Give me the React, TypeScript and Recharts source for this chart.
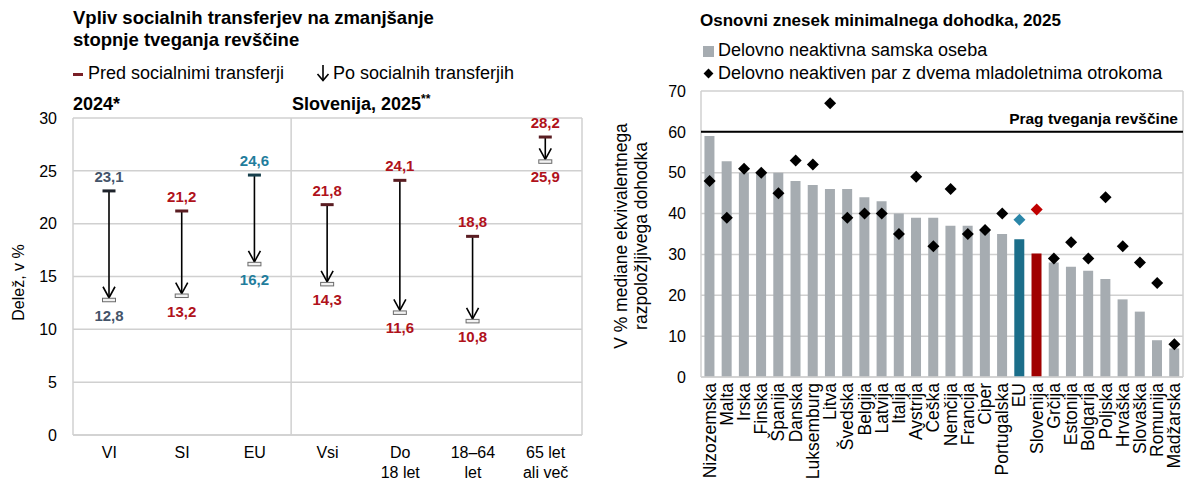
import React from 'react'
import {
  ComposedChart,
  Bar,
  Line,
  XAxis,
  YAxis,
  CartesianGrid,
  ReferenceLine,
  Cell,
  Label,
} from 'recharts'

// levi graf: stopnja tveganja revščine pred / po socialnih transferjih
const groups = ['VI', 'SI', 'EU', 'Vsi', 'Do\n18 let', '18–64\nlet', '65 let\nali več']
const beforeTransfers = [23.1, 21.2, 24.6, 21.8, 24.1, 18.8, 28.2]
const afterTransfers = [12.8, 13.2, 16.2, 14.3, 11.6, 10.8, 25.9]
const shareTicks = [0, 5, 10, 15, 20, 25, 30]

// desni graf: minimalni dohodek, % mediane
const countries = [
  'Nizozemska', 'Malta', 'Irska', 'Finska', 'Španija', 'Danska', 'Luksemburg',
  'Litva', 'Švedska', 'Belgija', 'Latvija', 'Italija', 'Avstrija', 'Češka',
  'Nemčija', 'Francija', 'Ciper', 'Portugalska', 'EU', 'Slovenija', 'Grčija',
  'Estonija', 'Bolgarija', 'Poljska', 'Hrvaška', 'Slovaška', 'Romunija', 'Madžarska',
]
const singlePerson = [59, 52.8, 50, 50, 50, 48, 47, 46, 46, 44, 43, 40, 39, 39, 37, 37, 36, 35, 33.7, 30.2, 28, 27, 26, 24, 19, 16, 9, 7]
const coupleTwoKids = [48, 39, 51, 50, 45, 53, 52, 67, 39, 40, 40, 35, 49, 32, 46, 35, 36, 40, 38.5, 41, 29, 33, 29, 44, 32, 28, 23, 8]
const incomeTicks = [0, 10, 20, 30, 40, 50, 60, 70]
const povertyThreshold = 60

const FONT = '"Liberation Sans", Arial, sans-serif'
const SLATE = '#44546a'
const RED = '#b0121b'
const TEAL = '#1f7d9c'
const GRID = '#d0d0d0'

const fmt = (v: number) => v.toFixed(1).replace('.', ',')

const shareData = groups.map((g, i) => ({
  name: g,
  range: [afterTransfers[i], beforeTransfers[i]],
  before: beforeTransfers[i],
  after: afterTransfers[i],
}))

const incomeData = countries.map((c, i) => ({
  name: c,
  single: singlePerson[i],
  couple: coupleTwoKids[i],
}))

function groupColor(name: string) {
  if (name === 'VI') return SLATE
  if (name === 'EU') return TEAL
  return RED
}

function capColor(name: string) {
  if (name === 'VI') return '#1e232b'
  if (name === 'EU') return '#173f4c'
  return '#5a1d22'
}

function ArrowShape(props: any) {
  const { x, y, width, height, payload } = props
  const cx = x + width / 2
  const top = y
  const bottom = y + height
  const color = groupColor(payload.name)
  return (
    <g>
      <line x1={cx} y1={top} x2={cx} y2={bottom - 2} stroke="#000" strokeWidth={1.6} />
      <polyline
        points={`${cx - 6},${bottom - 13} ${cx},${bottom - 2} ${cx + 6},${bottom - 13}`}
        fill="none"
        stroke="#000"
        strokeWidth={1.6}
      />
      <rect x={cx - 6.5} y={top - 1.5} width={13} height={3} fill={capColor(payload.name)} />
      <rect x={cx - 6.5} y={bottom - 1.5} width={13} height={3.5} fill="#f2f2f2" stroke="#6b6b6b" strokeWidth={1} />
      <text x={cx} y={top - 9} textAnchor="middle" fill={color} fontSize={15} fontWeight="bold" fontFamily={FONT}>
        {fmt(payload.before)}
      </text>
      <text x={cx} y={bottom + 21} textAnchor="middle" fill={color} fontSize={15} fontWeight="bold" fontFamily={FONT}>
        {fmt(payload.after)}
      </text>
    </g>
  )
}

function GroupTick({ x, y, payload }: any) {
  const lines = String(payload.value).split('\n')
  return (
    <text x={x} y={y} textAnchor="middle" fill="#000" fontSize={16} fontFamily={FONT}>
      {lines.map((l, i) => (
        <tspan key={i} x={x} dy={i === 0 ? 15 : 20}>
          {l}
        </tspan>
      ))}
    </text>
  )
}

function CountryTick({ x, y, payload }: any) {
  return (
    <g transform={`translate(${x},${y - 2})`}>
      <text transform="rotate(-90)" x={0} y={0} textAnchor="end" dominantBaseline="central" fill="#000" fontSize={17.5} fontFamily={FONT}>
        {payload.value}
      </text>
    </g>
  )
}

function Diamond(props: any) {
  const { cx, cy, payload } = props
  if (cx == null || cy == null) return null
  const fill = payload.name === 'EU' ? '#2a86a8' : payload.name === 'Slovenija' ? '#c00000' : '#000'
  const r = 6
  return <polygon points={`${cx},${cy - r} ${cx + r},${cy} ${cx},${cy + r} ${cx - r},${cy}`} fill={fill} />
}

const frameLines = ({ offset }: any) => [offset.left, offset.left + offset.width]

function ShareChart() {
  return (
    <ComposedChart
      width={600}
      height={481}
      data={shareData}
      margin={{ top: 118, right: 18, bottom: 0, left: 0 }}
    >
      <CartesianGrid stroke={GRID} strokeWidth={1.5} verticalCoordinatesGenerator={frameLines} />
      <XAxis
        dataKey="name"
        height={46}
        tick={<GroupTick />}
        tickLine={false}
        axisLine={{ stroke: GRID, strokeWidth: 1.5 }}
        interval={0}
      />
      <YAxis
        domain={[0, 30]}
        ticks={shareTicks}
        width={73}
        tickLine={false}
        axisLine={false}
        tickMargin={10}
        tick={{ fontSize: 16, fill: '#000', fontFamily: FONT }}
      >
        <Label
          content={({ viewBox }: any) => (
            <text
              transform={`translate(${viewBox.x + 18},${viewBox.y + viewBox.height / 2 + 6}) rotate(-90)`}
              textAnchor="middle"
              dominantBaseline="central"
              fontSize={16}
              fontFamily={FONT}
              fill="#000"
            >
              Delež, v %
            </text>
          )}
        />
      </YAxis>
      <ReferenceLine x="Vsi" position="start" stroke={GRID} strokeWidth={1.5} />
      <Bar dataKey="range" barSize={14} shape={<ArrowShape />} isAnimationActive={false} />
    </ComposedChart>
  )
}

function IncomeChart() {
  return (
    <ComposedChart
      width={587}
      height={481}
      data={incomeData}
      margin={{ top: 91, right: 4, bottom: 0, left: 0 }}
      barCategoryGap="20%"
    >
      <CartesianGrid stroke={GRID} strokeWidth={1.5} verticalCoordinatesGenerator={frameLines} />
      <XAxis
        dataKey="name"
        height={104}
        interval={0}
        tick={<CountryTick />}
        tickLine={false}
        axisLine={{ stroke: GRID, strokeWidth: 1.5 }}
      />
      <YAxis
        domain={[0, 70]}
        ticks={incomeTicks}
        width={101}
        tickLine={false}
        axisLine={false}
        tickMargin={9}
        tick={{ fontSize: 16, fill: '#000', fontFamily: FONT }}
      >
        <Label
          content={({ viewBox }: any) => (
            <text
              transform={`translate(${viewBox.x + 31},${viewBox.y + viewBox.height / 2 + 2}) rotate(-90)`}
              textAnchor="middle"
              fontSize={17.5}
              fontFamily={FONT}
              fill="#000"
            >
              <tspan x={0} dy={-4}>V % mediane ekvivalentnega</tspan>
              <tspan x={0} dy={20}>razpoložljivega dohodka</tspan>
            </text>
          )}
        />
      </YAxis>
      <Bar dataKey="single" isAnimationActive={false}>
        {incomeData.map((d) => (
          <Cell
            key={d.name}
            fill={d.name === 'EU' ? '#1b6e8a' : d.name === 'Slovenija' ? '#a00000' : '#a6acb1'}
          />
        ))}
      </Bar>
      <ReferenceLine
        y={povertyThreshold}
        stroke="#000"
        strokeWidth={2}
        label={({ viewBox }: any) => (
          <text
            x={viewBox.x + viewBox.width - 5}
            y={viewBox.y - 8}
            textAnchor="end"
            fontSize={15.5}
            fontWeight="bold"
            fontFamily={FONT}
            fill="#000"
          >
            Prag tveganja revščine
          </text>
        )}
      />
      <Line
        dataKey="couple"
        stroke="none"
        dot={(p: any) => <Diamond key={p.index} {...p} />}
        activeDot={false}
        isAnimationActive={false}
      />
    </ComposedChart>
  )
}

const abs = (left: number, top: number, extra: React.CSSProperties = {}): React.CSSProperties => ({
  position: 'absolute',
  left,
  top,
  fontFamily: FONT,
  color: '#000',
  whiteSpace: 'nowrap',
  ...extra,
})

export default function App() {
  return (
    <div style={{ position: 'absolute', left: 0, top: 0, width: 1187, height: 481, background: '#fff', overflow: 'hidden' }}>
      <div style={{ position: 'absolute', left: 0, top: 0 }}>
        <ShareChart />
      </div>
      <div style={{ position: 'absolute', left: 600, top: 0 }}>
        <IncomeChart />
      </div>

      <div style={abs(73, 7, { fontSize: 18.5, fontWeight: 'bold', lineHeight: '22px' })}>
        Vpliv socialnih transferjev na zmanjšanje
        <br />
        stopnje tveganja revščine
      </div>
      <div style={abs(73, 62, { fontSize: 18, lineHeight: '22px' })}>
        <span style={{ display: 'inline-block', width: 10, height: 3, background: '#7a1f26', verticalAlign: 'middle', marginRight: 5 }} />
        Pred socialnimi transferji
      </div>
      <div style={abs(316, 62, { fontSize: 18, lineHeight: '22px' })}>
        <svg width={14} height={18} style={{ verticalAlign: '-3px', marginRight: 3 }}>
          <line x1={7} y1={1} x2={7} y2={16} stroke="#000" strokeWidth={1.6} />
          <polyline points="1.5,10 7,16.5 12.5,10" fill="none" stroke="#000" strokeWidth={1.6} />
        </svg>
        Po socialnih transferjih
      </div>
      <div style={abs(73, 93, { fontSize: 18, fontWeight: 'bold', lineHeight: '22px' })}>2024*</div>
      <div style={abs(292, 93, { fontSize: 18, fontWeight: 'bold', lineHeight: '22px' })}>
        Slovenija, 2025<sup style={{ fontSize: 12, lineHeight: 0 }}>**</sup>
      </div>

      <div style={abs(700, 10, { fontSize: 17, fontWeight: 'bold', lineHeight: '22px' })}>
        Osnovni znesek minimalnega dohodka, 2025
      </div>
      <div style={abs(703, 39, { fontSize: 18, lineHeight: '22px' })}>
        <span style={{ display: 'inline-block', width: 11, height: 11, background: '#a6acb1', marginRight: 4, verticalAlign: '-1px' }} />
        Delovno neaktivna samska oseba
      </div>
      <div style={abs(703, 62, { fontSize: 18, lineHeight: '22px' })}>
        <span style={{ display: 'inline-block', width: 7, height: 7, background: '#000', transform: 'rotate(45deg)', marginLeft: 2, marginRight: 6, verticalAlign: '2px' }} />
        Delovno neaktiven par z dvema mladoletnima otrokoma
      </div>
    </div>
  )
}
